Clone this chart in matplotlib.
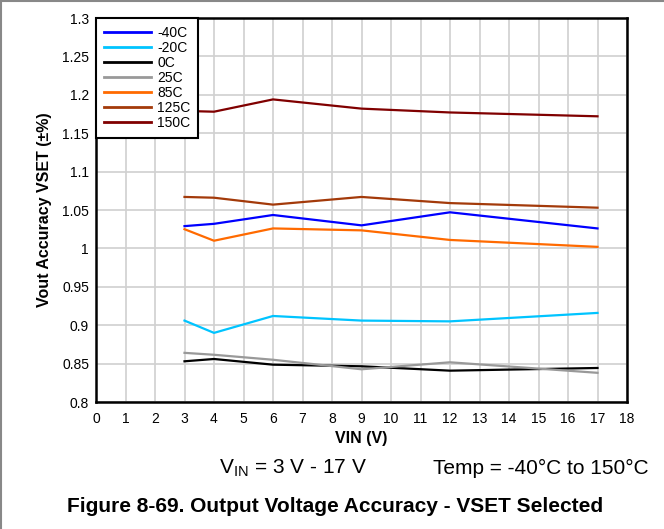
import matplotlib
matplotlib.use("Agg")
import matplotlib.pyplot as plt
from matplotlib.lines import Line2D
from matplotlib.ticker import FuncFormatter

plt.rcParams['font.family'] = ['Liberation Sans', 'DejaVu Sans']

# ---------- data ----------
vin = [3, 4, 6, 9, 12, 17]
labels = ['-40C', '-20C', '0C', '25C', '85C', '125C', '150C']
colors = ['#0000ff', '#00c4ff', '#000000', '#999999', '#ff6a00', '#a33a0a', '#800000']
acc_m40 = [1.029, 1.032, 1.0435, 1.030, 1.047, 1.026]
acc_m20 = [0.906, 0.890, 0.912, 0.906, 0.905, 0.916]
acc_0 = [0.853, 0.856, 0.8486, 0.8465, 0.8408, 0.8443]
acc_25 = [0.864, 0.8615, 0.855, 0.8426, 0.8517, 0.838]
acc_85 = [1.025, 1.010, 1.026, 1.0235, 1.011, 1.002]
acc_125 = [1.067, 1.066, 1.057, 1.067, 1.059, 1.053]
acc_150 = [1.179, 1.178, 1.194, 1.182, 1.177, 1.172]
series = [acc_m40, acc_m20, acc_0, acc_25, acc_85, acc_125, acc_150]

fig = plt.figure(figsize=(6.64, 5.29), dpi=100)
ax = fig.add_axes([96/664, 1-402/529, (627-96)/664, (402-18)/529])

for y, lab, c in zip(series, labels, colors):
    ax.plot(vin, y, color=c, lw=1.6, label=lab, zorder=3)

ax.set_xlim(0, 18)
ax.set_ylim(0.8, 1.3)
ax.set_xticks(range(0, 19))
ax.set_yticks([0.8 + 0.05*i for i in range(11)])
ax.yaxis.set_major_formatter(FuncFormatter(lambda v, p: f'{round(v, 2):g}'))
ax.grid(True, color='#d0d0d0', lw=1.2)
ax.set_axisbelow(True)
ax.tick_params(length=0, labelsize=10)
ax.tick_params(axis='x', pad=7)
ax.tick_params(axis='y', pad=5)
for s in ax.spines.values():
    s.set_linewidth(1.8)

ax.set_xlabel('VIN (V)', fontsize=11.5, fontweight='bold', labelpad=4)
ax.set_ylabel('Vout Accuracy VSET (±%)', fontsize=11.5, fontweight='bold', labelpad=7)

leg = ax.legend(loc='upper left', bbox_to_anchor=(0, 1), borderaxespad=0,
                fontsize=10, handlelength=3.4, handletextpad=0.45,
                labelspacing=0.08, borderpad=0.55, fancybox=False,
                framealpha=1, edgecolor='black')
leg.get_frame().set_linewidth(1.5)
for h in leg.get_lines():
    h.set_linewidth(2)

fig.text(293/664, 1-468/529, r'V$_{\mathregular{IN}}$ = 3 V - 17 V', fontsize=15,
         ha='center', va='center')
fig.text(541/664, 1-468/529, 'Temp = -40°C to 150°C', fontsize=15,
         ha='center', va='center')
fig.text(335/664, 1-506/529, 'Figure 8-69. Output Voltage Accuracy - VSET Selected',
         fontsize=15, fontweight='bold', ha='center', va='center')

# page border lines
fig.add_artist(Line2D([0.002, 0.002], [0, 1], color='#888888', lw=1.5))
fig.add_artist(Line2D([0, 1], [0.998, 0.998], color='#888888', lw=1.5))

fig.savefig('out.png', dpi=100)
